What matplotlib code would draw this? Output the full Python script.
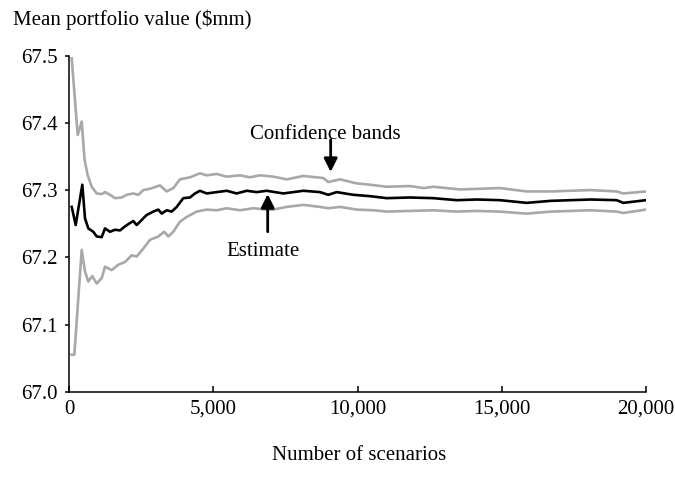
import matplotlib
matplotlib.use("Agg")
import matplotlib.pyplot as plt
from matplotlib.ticker import FuncFormatter, MultipleLocator

plt.rcParams['font.family'] = ['Liberation Serif', 'DejaVu Serif']

# Estimate curve
est_x = [94, 232, 461, 555, 669, 842, 960, 1133, 1248, 1421, 1594, 1768, 1941, 2114,
         2229, 2346, 2575, 2693, 2922, 3095, 3213, 3386, 3560, 3733, 3962, 4194, 4367,
         4540, 4773, 5119, 5466, 5812, 6159, 6506, 6852, 7428, 8121, 8700, 8987, 9278,
         9854, 10433, 11012, 11819, 12627, 13438, 14131, 14939, 15864, 16696, 18083,
         18983, 19212, 20000]
est_y = [67.275, 67.248, 67.308, 67.258, 67.243, 67.238, 67.231, 67.230, 67.243, 67.238,
         67.241, 67.240, 67.246, 67.251, 67.254, 67.248, 67.258, 67.263, 67.268, 67.271,
         67.265, 67.270, 67.268, 67.275, 67.288, 67.289, 67.295, 67.299, 67.295, 67.297,
         67.299, 67.295, 67.299, 67.297, 67.299, 67.295, 67.299, 67.297, 67.293, 67.297,
         67.293, 67.291, 67.288, 67.289, 67.288, 67.285, 67.286, 67.285, 67.281, 67.284,
         67.286, 67.285, 67.281, 67.285]

# Upper confidence band
up_x = [94, 302, 440, 540, 648, 787, 960, 1133, 1248, 1421, 1594, 1827, 2000, 2229, 2402,
        2575, 2807, 3154, 3386, 3615, 3847, 4194, 4540, 4773, 5119, 5466, 5927, 6274, 6620,
        7081, 7545, 8121, 8814, 8987, 9393, 9972, 10433, 11012, 11819, 12300, 12627, 13552,
        14939, 15864, 16696, 18083, 18983, 19212, 20000]
up_y = [67.496, 67.382, 67.402, 67.345, 67.322, 67.305, 67.295, 67.294, 67.297, 67.293,
        67.288, 67.289, 67.293, 67.295, 67.293, 67.300, 67.302, 67.307, 67.298, 67.303,
        67.316, 67.319, 67.325, 67.322, 67.324, 67.320, 67.322, 67.319, 67.322, 67.320,
        67.316, 67.321, 67.318, 67.312, 67.316, 67.310, 67.308, 67.305, 67.306, 67.303,
        67.305, 67.301, 67.303, 67.298, 67.298, 67.300, 67.298, 67.295, 67.298]

# Lower confidence band
lo_x = [94, 185, 440, 555, 669, 807, 960, 1133, 1248, 1480, 1710, 1941, 2173, 2346, 2575,
        2807, 3095, 3300, 3444, 3615, 3847, 4078, 4425, 4773, 5119, 5466, 5927, 6390, 6852,
        7081, 7545, 8121, 8700, 8987, 9393, 9972, 10548, 11012, 11819, 12627, 13438, 14131,
        14939, 15864, 16696, 18083, 18983, 19212, 20000]
lo_y = [67.055, 67.055, 67.211, 67.179, 67.164, 67.172, 67.161, 67.169, 67.186, 67.181,
        67.189, 67.193, 67.203, 67.201, 67.213, 67.226, 67.231, 67.238, 67.231, 67.238,
        67.253, 67.260, 67.268, 67.271, 67.270, 67.273, 67.270, 67.273, 67.271, 67.271,
        67.275, 67.278, 67.275, 67.273, 67.275, 67.271, 67.270, 67.268, 67.269, 67.270,
        67.268, 67.269, 67.268, 67.265, 67.268, 67.270, 67.268, 67.266, 67.271]

y_ticks = [67.0, 67.1, 67.2, 67.3, 67.4, 67.5]
x_ticks = [0, 5000, 10000, 15000, 20000]

FS = 15
fig = plt.figure(figsize=(6.75, 4.87), dpi=100)
ax = fig.add_axes([69/675, 1-391.7/487, (646-69)/675, (391.7-55.7)/487])

band_col = '#a8a8a8'
ax.plot(up_x, up_y, color=band_col, lw=1.9, solid_joinstyle='round')
ax.plot(lo_x, lo_y, color=band_col, lw=1.9, solid_joinstyle='round')
ax.plot(est_x, est_y, color='black', lw=1.9, solid_joinstyle='round')

ax.set_xlim(0, 20000)
ax.set_ylim(67.0, 67.5)
ax.set_yticks(y_ticks)
ax.set_xticks(x_ticks)
ax.yaxis.set_major_formatter(FuncFormatter(lambda v, p: f"{v:.1f}"))
ax.xaxis.set_major_formatter(FuncFormatter(lambda v, p: f"{int(v):,}"))
for s in ['top', 'right']:
    ax.spines[s].set_visible(False)
for s in ['left', 'bottom']:
    ax.spines[s].set_linewidth(1.1)
ax.tick_params(axis='y', direction='out', length=3, width=1.1, labelsize=FS, pad=5)
ax.tick_params(axis='x', direction='in', length=4, width=1.1, labelsize=FS, pad=6)

arrow_kw = dict(arrowstyle='-|>', color='black', lw=2.0, mutation_scale=20,
                shrinkA=0, shrinkB=0)
ax.annotate('', xy=(9070, 67.327), xytext=(9070, 67.375), arrowprops=arrow_kw)
ax.text(8890, 67.382, 'Confidence bands', ha='center', va='center', fontsize=FS)
ax.annotate('', xy=(6887, 67.294), xytext=(6887, 67.238), arrowprops=arrow_kw)
ax.text(6724, 67.208, 'Estimate', ha='center', va='center', fontsize=FS)

fig.text(13/675, 1-20/487, 'Mean portfolio value ($mm)', ha='left', va='center', fontsize=FS)
fig.text(359/675, 1-455/487, 'Number of scenarios', ha='center', va='center', fontsize=FS)

fig.savefig('out.png', dpi=100)
